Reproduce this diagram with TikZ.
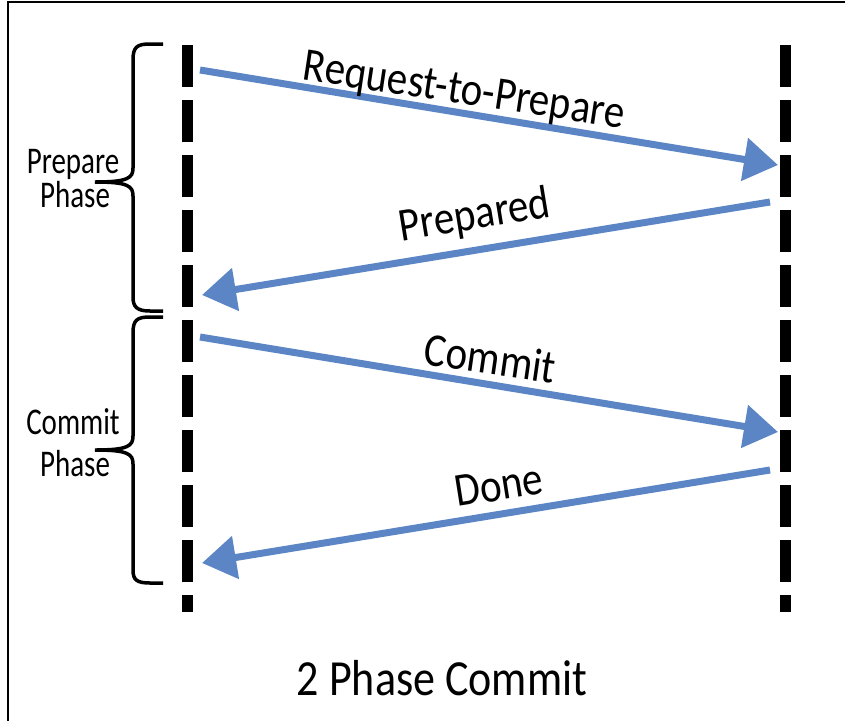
\documentclass[tikz,border=0pt]{standalone}
\usepackage{fontspec}
\setmainfont{Carlito}
\usetikzlibrary{arrows.meta}
\definecolor{arrowblue}{RGB}{91,133,197}
\newcommand{\tallA}[1]{\scalebox{1}[1.15]{#1}}
\newcommand{\tallB}[1]{\scalebox{1}[1.3]{#1}}
\begin{document}
\begin{tikzpicture}[x=1pt,y=-1pt,
  lifeline/.style={line width=11pt, dash pattern=on 42pt off 13pt},
  msg/.style={draw=arrowblue, line width=7pt, -{Triangle[length=34pt,width=42pt,fill=arrowblue]}},
  bracepath/.style={line width=3.5pt, line cap=butt},
  biglabel/.style={font=\fontsize{41}{49}\selectfont, anchor=base, inner sep=0pt},
  smalllabel/.style={font=\fontsize{29}{34}\selectfont, anchor=base, inner sep=0pt},
  titlelabel/.style={font=\fontsize{44}{52}\selectfont, anchor=base, inner sep=0pt},
]
\useasboundingbox (0,0) rectangle (845,720);
% frame (only top and left edges visible)
\draw[line width=2pt] (8,730) -- (8,2) -- (855,2);

% lifelines
\coordinate (lt) at (187,45);
\coordinate (lb) at (187,612);
\coordinate (rt) at (785,45);
\coordinate (rb) at (785,612);
\draw[lifeline] (lt) -- (lb);
\draw[lifeline] (rt) -- (rb);

% message end points
\coordinate (m1s) at (200,70);
\coordinate (m1e) at (778,165);
\coordinate (m2s) at (770,202);
\coordinate (m2e) at (202,295);
\coordinate (m3s) at (200,337);
\coordinate (m3e) at (778,432);
\coordinate (m4s) at (770,470);
\coordinate (m4e) at (202,563);

\draw[msg] (m1s) -- (m1e);
\draw[msg] (m2s) -- (m2e);
\draw[msg] (m3s) -- (m3e);
\draw[msg] (m4s) -- (m4e);

% message labels
\node[biglabel, rotate=-8.6] (l1) at (462,104) {\tallA{Request-to-Prepare}};
\node[biglabel, rotate=9.3] (l2) at (477,229) {\tallA{Prepared}};
\node[biglabel, rotate=-8.2] (l3) at (488,374) {\tallA{Commit}};
\node[biglabel, rotate=9.0] (l4) at (501,500) {\tallA{Done}};

% braces
\draw[bracepath] (163,44) -- (150,44) .. controls (137,44) and (133,47) .. (133,60)
  -- (133,168) .. controls (133,178) and (128,182) .. (95,182)
  .. controls (128,182) and (133,186) .. (133,196)
  -- (133,297) .. controls (133,307) and (137,311) .. (150,311) -- (163,311);
\draw[bracepath] (163,317) -- (150,317) .. controls (137,317) and (133,320) .. (133,333)
  -- (133,436) .. controls (133,446) and (128,450) .. (95,450)
  .. controls (128,450) and (133,454) .. (133,464)
  -- (133,570) .. controls (133,580) and (137,583) .. (150,583) -- (163,583);

% phase labels
\node[smalllabel] (p1) at (73,173) {\tallB{Prepare}};
\node[smalllabel] (p2) at (75,207) {\tallB{Phase}};
\node[smalllabel] (c1) at (73,434) {\tallB{Commit}};
\node[smalllabel] (c2) at (75,476) {\tallB{Phase}};

% title
\node[titlelabel] (title) at (442,695) {\tallA{2 Phase Commit}};
\end{tikzpicture}
\end{document}
